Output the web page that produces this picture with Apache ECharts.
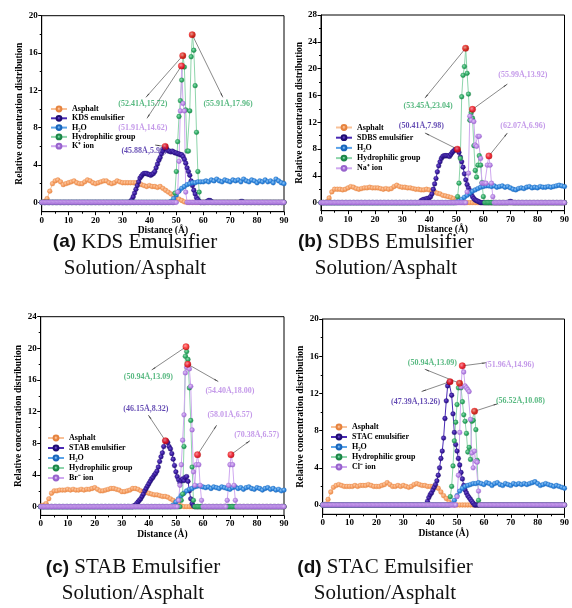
<!DOCTYPE html>
<html>
<head>
<meta charset="utf-8">
<script src="https://cdn.jsdelivr.net/npm/echarts@6/dist/echarts.min.js"></script>
<style>
  html, body { margin: 0; padding: 0; background: #fff; }
  #chart { width: 572px; height: 608px; }
</style>
</head>
<body>
<div id="chart"></div>
<script>
// sampling of the curves
const coarseStep = 1;   // asphalt and water: one value per 1 Å (0..90)
const fineStep = 0.5;   // emulsifier, hydrophilic group, ion: one value per 0.5 Å (0..90)

// ---------- (a) KDS ----------
const aAsphalt = [
  0, 0.1, 0.4, 1.2, 2.0, 2.3, 2.4, 2.2, 1.9, 2.0,
  2.1, 2.2, 2.3, 2.1, 2.0, 2.0, 2.2, 2.4, 2.3, 2.1,
  2.0, 2.1, 2.2, 2.3, 2.3, 2.1, 2.0, 2.1, 2.3, 2.2,
  2.1, 2.1, 2.1, 2.1, 2.1, 2.1, 2.1, 1.9, 1.8, 1.7,
  1.8, 1.7, 1.7, 1.6, 1.7, 1.5, 1.3, 1.1, 0.9, 0.7,
  0.5, 0.35, 0.2, 0.05, 0, 0, 0, 0, 0, 0,
  0, 0, 0, 0, 0, 0, 0, 0, 0, 0,
  0, 0, 0, 0, 0, 0, 0, 0, 0, 0,
  0, 0, 0, 0, 0, 0, 0, 0, 0, 0,
  0];
const aWater = [
  0, 0, 0, 0, 0, 0, 0, 0, 0, 0,
  0, 0, 0, 0, 0, 0, 0, 0, 0, 0,
  0, 0, 0, 0, 0, 0, 0, 0, 0, 0,
  0, 0, 0, 0, 0, 0, 0, 0, 0, 0,
  0, 0, 0, 0, 0, 0, 0, 0, 0.1, 0.4,
  0.8, 1.2, 1.5, 1.7, 1.9, 2.0, 2.1, 2.1, 2.2, 2.2,
  2.2, 2.3, 2.2, 2.4, 2.3, 2.5, 2.3, 2.2, 2.4, 2.3,
  2.2, 2.4, 2.3, 2.4, 2.2, 2.5, 2.3, 2.2, 2.4, 2.3,
  2.1, 2.3, 2.2, 2.4, 2.2, 2.3, 2.1, 2.5, 2.3, 2.1,
  2.0];
const aEmulsifier = [
  0, 0, 0, 0, 0, 0, 0, 0, 0, 0, 0, 0, 0, 0, 0, 0, 0, 0, 0, 0,
  0, 0, 0, 0, 0, 0, 0, 0, 0, 0, 0, 0, 0, 0, 0, 0, 0, 0, 0, 0,
  0, 0, 0, 0, 0, 0, 0, 0, 0, 0, 0, 0, 0, 0, 0, 0, 0, 0, 0, 0,
  0, 0, 0, 0, 0, 0, 0.1, 0.3, 0.6, 1.0, 1.4, 1.8, 2.2, 2.6, 2.8, 3.0, 3.1, 3.1, 3.1, 3.0,
  3.0, 2.9, 3.0, 3.1, 3.3, 3.7, 4.1, 4.5, 4.8, 5.2, 5.5, 5.8, 5.99, 5.7, 5.5, 5.5, 5.4, 5.5, 5.4, 5.3,
  5.3, 5.2, 5.2, 5.1, 5.1, 4.9, 4.6, 4.2, 3.7, 3.3, 2.9, 2.3, 1.8, 1.3, 0.9, 0.5, 0.3, 0.1, 0, 0,
  0, 0, 0, 0.1, 0.2, 0.2, 0.1, 0, 0, 0, 0, 0, 0, 0, 0, 0, 0, 0, 0, 0,
  0, 0, 0, 0, 0, 0, 0, 0, 0.1, 0.1, 0, 0, 0, 0, 0, 0, 0, 0, 0, 0,
  0, 0, 0, 0, 0, 0, 0, 0, 0, 0, 0, 0, 0, 0, 0, 0, 0, 0, 0, 0,
  0];
const aHydrophilic = [
  0, 0, 0, 0, 0, 0, 0, 0, 0, 0, 0, 0, 0, 0, 0, 0, 0, 0, 0, 0,
  0, 0, 0, 0, 0, 0, 0, 0, 0, 0, 0, 0, 0, 0, 0, 0, 0, 0, 0, 0,
  0, 0, 0, 0, 0, 0, 0, 0, 0, 0, 0, 0, 0, 0, 0, 0, 0, 0, 0, 0,
  0, 0, 0, 0, 0, 0, 0, 0, 0, 0, 0, 0, 0, 0, 0, 0, 0, 0, 0, 0,
  0, 0, 0, 0, 0, 0, 0, 0, 0, 0, 0, 0, 0, 0, 0, 0, 0, 0, 0, 1.0,
  3.3, 6.5, 9.2, 10.9, 13.1, 15.72, 14.5, 9.9, 5.5, 5.5, 9.8, 15.6, 17.96, 16.3, 12.5, 7.5, 3.3, 1.1, 0, 0,
  0, 0, 0, 0, 0, 0, 0, 0, 0, 0, 0, 0, 0, 0, 0, 0, 0, 0, 0, 0,
  0, 0, 0, 0, 0, 0, 0, 0, 0, 0, 0, 0, 0, 0, 0, 0, 0, 0, 0, 0,
  0, 0, 0, 0, 0, 0, 0, 0, 0, 0, 0, 0, 0, 0, 0, 0, 0, 0, 0, 0,
  0];
const aIon = [
  0, 0, 0, 0, 0, 0, 0, 0, 0, 0, 0, 0, 0, 0, 0, 0, 0, 0, 0, 0,
  0, 0, 0, 0, 0, 0, 0, 0, 0, 0, 0, 0, 0, 0, 0, 0, 0, 0, 0, 0,
  0, 0, 0, 0, 0, 0, 0, 0, 0, 0, 0, 0, 0, 0, 0, 0, 0, 0, 0, 0,
  0, 0, 0, 0, 0, 0, 0, 0, 0, 0, 0, 0, 0, 0, 0, 0, 0, 0, 0, 0,
  0, 0, 0, 0, 0, 0, 0, 0, 0, 0, 0, 0, 0, 0, 0, 0, 0, 0, 0, 0,
  0, 1.1, 4.4, 9.8, 14.62, 10.6, 9.8, 1.1, 0, 0, 0, 0, 0, 0, 0, 0, 0, 0, 0, 0,
  0, 0, 0, 0, 0, 0, 0, 0, 0, 0, 0, 0, 0, 0, 0, 0, 0, 0, 0, 0,
  0, 0, 0, 0, 0, 0, 0, 0, 0, 0, 0, 0, 0, 0, 0, 0, 0, 0, 0, 0,
  0, 0, 0, 0, 0, 0, 0, 0, 0, 0, 0, 0, 0, 0, 0, 0, 0, 0, 0, 0,
  0];
const aPeakX = [52.41, 51.91, 55.91, 45.88];
const aPeakY = [15.72, 14.62, 17.96, 5.99];
const aPeakLabels = ['(52.41Å,15.72)', '(51.91Å,14.62)', '(55.91Å,17.96)', '(45.88Å,5.99)'];
const aNames = ['Asphalt', 'KDS emulsifier', 'H₂O', 'Hydrophilic group', 'K⁺ ion'];
const aYTicks = [0, 4, 8, 12, 16, 20];
const aYMinor = [2, 6, 10, 14, 18];

// ---------- (b) SDBS ----------
const bAsphalt = [
  0, 0, 0.1, 0.7, 1.6, 2.0, 2.0, 2.0, 1.9, 2.0,
  2.2, 2.4, 2.3, 2.1, 2.0, 2.1, 2.2, 2.2, 2.3, 2.2,
  2.2, 2.2, 2.1, 2.0, 2.1, 2.0, 2.1, 2.4, 2.6, 2.4,
  2.3, 2.3, 2.2, 2.2, 2.1, 2.0, 2.0, 1.9, 1.9, 2.0,
  1.9, 1.8, 1.6, 1.4, 1.3, 1.1, 1.0, 0.9, 0.8, 0.6,
  0.4, 0.2, 0.1, 0, 0, 0, 0, 0, 0, 0,
  0, 0, 0, 0, 0, 0, 0, 0, 0, 0,
  0, 0, 0, 0, 0, 0, 0, 0, 0, 0,
  0, 0, 0, 0, 0, 0, 0, 0, 0, 0,
  0];
const bWater = [
  0, 0, 0, 0, 0, 0, 0, 0, 0, 0,
  0, 0, 0, 0, 0, 0, 0, 0, 0, 0,
  0, 0, 0, 0, 0, 0, 0, 0, 0, 0,
  0, 0, 0, 0, 0, 0, 0, 0, 0, 0,
  0, 0, 0, 0, 0, 0, 0, 0, 0, 0,
  0.1, 0.3, 0.5, 0.8, 1.1, 1.4, 1.7, 1.9, 2.1, 2.3,
  2.4, 2.5, 2.5, 2.4, 2.5, 2.3, 2.4, 2.5, 2.3, 2.4,
  2.2, 2.0, 1.9, 2.1, 2.2, 2.1, 2.3, 2.4, 2.2, 2.3,
  2.2, 2.4, 2.3, 2.3, 2.4, 2.3, 2.4, 2.5, 2.6, 2.5,
  2.4];
const bEmulsifier = [
  0, 0, 0, 0, 0, 0, 0, 0, 0, 0, 0, 0, 0, 0, 0, 0, 0, 0, 0, 0,
  0, 0, 0, 0, 0, 0, 0, 0, 0, 0, 0, 0, 0, 0, 0, 0, 0, 0, 0, 0,
  0, 0, 0, 0, 0, 0, 0, 0, 0, 0, 0, 0, 0, 0, 0, 0, 0, 0, 0, 0,
  0, 0, 0, 0, 0, 0, 0, 0, 0, 0, 0, 0, 0, 0, 0.3, 0.4, 0.5, 0.5, 0.6, 0.6,
  0.7, 0.9, 1.3, 2.0, 2.8, 3.6, 4.6, 5.5, 6.1, 6.6, 6.9, 7.0, 7.0, 7.0, 7.0, 6.9, 7.2, 7.5, 7.7, 7.9,
  7.9, 7.98, 7.5, 6.8, 6.1, 5.3, 4.3, 3.4, 2.7, 2.2, 1.8, 1.3, 0.9, 0.6, 0.4, 0.3, 0.2, 0.1, 0, 0,
  0, 0, 0, 0, 0, 0, 0, 0, 0, 0, 0, 0, 0, 0, 0, 0, 0, 0, 0, 0.1,
  0.2, 0.1, 0, 0, 0, 0, 0, 0, 0, 0, 0, 0, 0, 0, 0, 0, 0, 0, 0, 0,
  0, 0, 0, 0, 0, 0, 0, 0, 0, 0, 0, 0, 0, 0, 0, 0, 0, 0, 0, 0,
  0];
const bHydrophilic = [
  0, 0, 0, 0, 0, 0, 0, 0, 0, 0, 0, 0, 0, 0, 0, 0, 0, 0, 0, 0,
  0, 0, 0, 0, 0, 0, 0, 0, 0, 0, 0, 0, 0, 0, 0, 0, 0, 0, 0, 0,
  0, 0, 0, 0, 0, 0, 0, 0, 0, 0, 0, 0, 0, 0, 0, 0, 0, 0, 0, 0,
  0, 0, 0, 0, 0, 0, 0, 0, 0, 0, 0, 0, 0, 0, 0, 0, 0, 0, 0, 0,
  0, 0, 0, 0, 0, 0, 0, 0, 0, 0, 0, 0, 0, 0, 0, 0, 0, 0, 0, 0,
  0, 0.9, 2.9, 6.6, 15.8, 19.0, 20.3, 23.04, 19.3, 16.2, 12.3, 13.4, 12.6, 8.5, 4.8, 3.8, 5.6, 7.0, 5.6, 3.0,
  0.9, 0, 0, 0, 0, 0, 0, 0, 0, 0, 0, 0, 0, 0, 0, 0, 0, 0, 0, 0,
  0, 0, 0, 0, 0, 0, 0, 0, 0, 0, 0, 0, 0, 0, 0, 0, 0, 0, 0, 0,
  0, 0, 0, 0, 0, 0, 0, 0, 0, 0, 0, 0, 0, 0, 0, 0, 0, 0, 0, 0,
  0];
const bIon = [
  0, 0, 0, 0, 0, 0, 0, 0, 0, 0, 0, 0, 0, 0, 0, 0, 0, 0, 0, 0,
  0, 0, 0, 0, 0, 0, 0, 0, 0, 0, 0, 0, 0, 0, 0, 0, 0, 0, 0, 0,
  0, 0, 0, 0, 0, 0, 0, 0, 0, 0, 0, 0, 0, 0, 0, 0, 0, 0, 0, 0,
  0, 0, 0, 0, 0, 0, 0, 0, 0, 0, 0, 0, 0, 0, 0, 0, 0, 0, 0, 0,
  0, 0, 0, 0, 0, 0, 0, 0, 0, 0, 0, 0, 0, 0, 0, 0, 0, 0, 0, 0,
  0, 0, 0, 0, 0, 0, 0, 0, 1.6, 4.4, 12.9, 12.3, 13.92, 12.1, 8.6, 8.4, 9.9, 9.9, 6.6, 2.9,
  2.9, 2.9, 2.9, 5.6, 6.96, 5.6, 2.9, 0.9, 0, 0, 0, 0, 0, 0, 0, 0, 0, 0, 0, 0,
  0, 0, 0, 0, 0, 0, 0, 0, 0, 0, 0, 0, 0, 0, 0, 0, 0, 0, 0, 0,
  0, 0, 0, 0, 0, 0, 0, 0, 0, 0, 0, 0, 0, 0, 0, 0, 0, 0, 0, 0,
  0];
const bPeakX = [53.45, 50.41, 55.99, 62.07];
const bPeakY = [23.04, 7.98, 13.92, 6.96];
const bPeakLabels = ['(53.45Å,23.04)', '(50.41Å,7.98)', '(55.99Å,13.92)', '(62.07Å,6.96)'];
const bNames = ['Asphalt', 'SDBS emulsifier', 'H₂O', 'Hydrophilic group', 'Na⁺ ion'];
const bYTicks = [0, 4, 8, 12, 16, 20, 24, 28];
const bYMinor = [2, 6, 10, 14, 18, 22, 26];

// ---------- (c) STAB ----------
const cAsphalt = [
  0.1, 0.2, 0.4, 1.0, 1.7, 2.0, 2.0, 2.1, 2.1, 2.1,
  2.2, 2.1, 2.2, 2.1, 2.1, 2.2, 2.1, 2.2, 2.2, 2.3,
  2.4, 2.2, 2.0, 2.0, 2.1, 2.2, 2.3, 2.3, 2.2, 2.1,
  1.9, 1.9, 2.0, 2.1, 2.3, 2.3, 2.2, 2.0, 1.9, 1.8,
  1.7, 1.6, 1.5, 1.5, 1.4, 1.3, 1.3, 1.2, 1.0, 0.8,
  0.5, 0.3, 0.1, 0, 0, 0, 0, 0, 0, 0,
  0, 0, 0, 0, 0, 0, 0, 0, 0, 0,
  0, 0, 0, 0, 0, 0, 0, 0, 0, 0,
  0, 0, 0, 0, 0, 0, 0, 0, 0, 0,
  0];
const cWater = [
  0, 0, 0, 0, 0, 0, 0, 0, 0, 0,
  0, 0, 0, 0, 0, 0, 0, 0, 0, 0,
  0, 0, 0, 0, 0, 0, 0, 0, 0, 0,
  0, 0, 0, 0, 0, 0, 0, 0, 0, 0,
  0, 0, 0, 0, 0, 0, 0, 0, 0, 0.2,
  0.6, 1.0, 1.4, 1.7, 2.0, 2.2, 2.3, 2.5, 2.6, 2.6,
  2.5, 2.4, 2.5, 2.3, 2.5, 2.4, 2.3, 2.5, 2.4, 2.3,
  2.2, 2.4, 2.5, 2.3, 2.4, 2.2, 2.4, 2.5, 2.3, 2.2,
  2.4, 2.3, 2.1, 2.3, 2.4, 2.2, 2.3, 2.1, 2.2, 2.0,
  2.1];
const cEmulsifier = [
  0, 0, 0, 0, 0, 0, 0, 0, 0, 0, 0, 0, 0, 0, 0, 0, 0, 0, 0, 0,
  0, 0, 0, 0, 0, 0, 0, 0, 0, 0, 0, 0, 0, 0, 0, 0, 0, 0, 0, 0,
  0, 0, 0, 0, 0, 0, 0, 0, 0, 0, 0, 0, 0, 0, 0, 0, 0, 0, 0, 0,
  0, 0, 0, 0, 0, 0, 0, 0, 0, 0.1, 0.2, 0.4, 0.6, 0.8, 1.0, 1.3, 1.6, 2.0, 2.3, 2.6,
  2.9, 3.2, 3.5, 3.7, 4.0, 4.2, 4.5, 5.0, 5.7, 6.3, 6.8, 7.6, 8.32, 8.3, 8.1, 7.6, 7.3, 6.7, 6.0, 5.2,
  4.4, 3.8, 3.4, 3.0, 3.3, 3.5, 3.3, 3.7, 3.8, 3.2, 2.0, 1.0, 0.4, 0.1, 0, 0, 0, 0, 0, 0,
  0, 0, 0, 0, 0, 0, 0, 0, 0, 0, 0, 0, 0, 0, 0, 0, 0, 0, 0, 0,
  0, 0, 0, 0, 0, 0, 0, 0, 0, 0, 0, 0, 0, 0, 0, 0, 0, 0, 0, 0,
  0, 0, 0, 0, 0, 0, 0, 0, 0, 0, 0, 0, 0, 0, 0, 0, 0, 0, 0, 0,
  0];
const cHydrophilic = [
  0, 0, 0, 0, 0, 0, 0, 0, 0, 0, 0, 0, 0, 0, 0, 0, 0, 0, 0, 0,
  0, 0, 0, 0, 0, 0, 0, 0, 0, 0, 0, 0, 0, 0, 0, 0, 0, 0, 0, 0,
  0, 0, 0, 0, 0, 0, 0, 0, 0, 0, 0, 0, 0, 0, 0, 0, 0, 0, 0, 0,
  0, 0, 0, 0, 0, 0, 0, 0, 0, 0, 0, 0, 0, 0, 0, 0, 0, 0, 0, 0,
  0, 0, 0, 0, 0, 0, 0, 0, 0, 0, 0, 0, 0, 0, 0, 0, 0, 0, 0, 0,
  0, 0, 0, 0, 0.8, 1.6, 7.6, 19.0, 19.6, 18.6, 15.0, 10.9, 5.0, 0.8, 0, 0, 0, 0, 0, 0,
  0, 0, 0, 0, 0, 0, 0, 0, 0, 0, 0, 0, 0, 0, 0, 0, 0, 0, 0, 0,
  0, 0, 0, 0, 0, 0, 0, 0, 0, 0, 0, 0, 0, 0, 0, 0, 0, 0, 0, 0,
  0, 0, 0, 0, 0, 0, 0, 0, 0, 0, 0, 0, 0, 0, 0, 0, 0, 0, 0, 0,
  0];
const cIon = [
  0, 0, 0, 0, 0, 0, 0, 0, 0, 0, 0, 0, 0, 0, 0, 0, 0, 0, 0, 0,
  0, 0, 0, 0, 0, 0, 0, 0, 0, 0, 0, 0, 0, 0, 0, 0, 0, 0, 0, 0,
  0, 0, 0, 0, 0, 0, 0, 0, 0, 0, 0, 0, 0, 0, 0, 0, 0, 0, 0, 0,
  0, 0, 0, 0, 0, 0, 0, 0, 0, 0, 0, 0, 0, 0, 0, 0, 0, 0, 0, 0,
  0, 0, 0, 0, 0, 0, 0, 0, 0, 0, 0, 0, 0, 0, 0, 0, 0, 0, 0, 0,
  0, 0, 0.8, 2.7, 5.3, 8.4, 11.6, 16.9, 17.6, 18.0, 17.4, 15.2, 9.7, 4.4, 2.7, 5.3, 6.57, 5.3, 2.7, 0.8,
  0, 0, 0, 0, 0, 0, 0, 0, 0, 0, 0, 0, 0, 0, 0, 0, 0, 0, 0.8, 2.7,
  5.3, 6.57, 5.3, 2.7, 0.8, 0, 0, 0, 0, 0, 0, 0, 0, 0, 0, 0, 0, 0, 0, 0,
  0, 0, 0, 0, 0, 0, 0, 0, 0, 0, 0, 0, 0, 0, 0, 0, 0, 0, 0, 0,
  0];
const cPeakX = [53.75, 46.15, 54.40, 58.01, 70.38];
const cPeakY = [20.2, 8.32, 18.00, 6.57, 6.57];
const cPeakLabels = ['(50.94Å,13.09)', '(46.15Å,8.32)', '(54.40Å,18.00)', '(58.01Å,6.57)', '(70.38Å,6.57)'];
const cNames = ['Asphalt', 'STAB emulsifier', 'H₂O', 'Hydrophilic group', 'Br⁻ ion'];
const cYTicks = [0, 4, 8, 12, 16, 20, 24];
const cYMinor = [2, 6, 10, 14, 18, 22];

// ---------- (d) STAC ----------
const dAsphalt = [
  0, 0.1, 0.6, 1.4, 1.9, 2.1, 2.2, 2.1, 2.0, 2.0,
  2.0, 2.0, 2.1, 2.0, 2.1, 2.1, 2.1, 2.2, 2.1, 2.0,
  2.0, 2.0, 2.1, 2.2, 2.4, 2.2, 2.0, 2.0, 2.1, 2.0,
  2.1, 2.0, 1.9, 2.0, 2.2, 2.3, 2.2, 2.1, 2.1, 2.0,
  2.0, 2.0, 1.9, 1.8, 1.4, 1.0, 0.7, 0.3, 0.1, 0,
  0, 0, 0, 0, 0, 0, 0, 0, 0, 0,
  0, 0, 0, 0, 0, 0, 0, 0, 0, 0,
  0, 0, 0, 0, 0, 0, 0, 0, 0, 0,
  0, 0, 0, 0, 0, 0, 0, 0, 0, 0,
  0];
const dWater = [
  0, 0, 0, 0, 0, 0, 0, 0, 0, 0,
  0, 0, 0, 0, 0, 0, 0, 0, 0, 0,
  0, 0, 0, 0, 0, 0, 0, 0, 0, 0,
  0, 0, 0, 0, 0, 0, 0, 0, 0, 0,
  0, 0, 0, 0, 0, 0, 0, 0, 0.1, 0.5,
  1.0, 1.5, 1.8, 2.0, 2.1, 2.2, 2.3, 2.3, 2.4, 2.3,
  2.2, 2.4, 2.3, 2.1, 2.3, 2.4, 2.2, 2.1, 2.3, 2.2,
  2.1, 2.3, 2.2, 2.3, 2.2, 2.3, 2.2, 2.3, 2.4, 2.5,
  2.3, 2.1, 2.2, 2.3, 2.2, 2.1, 2.0, 2.1, 2.0, 1.9,
  1.8];
const dEmulsifier = [
  0, 0, 0, 0, 0, 0, 0, 0, 0, 0, 0, 0, 0, 0, 0, 0, 0, 0, 0, 0,
  0, 0, 0, 0, 0, 0, 0, 0, 0, 0, 0, 0, 0, 0, 0, 0, 0, 0, 0, 0,
  0, 0, 0, 0, 0, 0, 0, 0, 0, 0, 0, 0, 0, 0, 0, 0, 0, 0, 0, 0,
  0, 0, 0, 0, 0, 0, 0, 0, 0, 0, 0, 0, 0, 0, 0, 0, 0, 0, 0.4, 0.8,
  1.1, 1.3, 1.6, 1.9, 2.2, 2.6, 3.2, 4.0, 5.0, 5.8, 7.2, 9.3, 11.2, 12.8, 13.2, 13.26, 11.8, 9.8, 7.8, 6.5,
  5.8, 5.0, 4.3, 3.5, 2.8, 2.1, 1.6, 1.3, 1.0, 0.8, 0.6, 0.4, 0.2, 0, 0, 0, 0, 0, 0, 0,
  0, 0, 0, 0, 0, 0, 0, 0, 0, 0, 0, 0, 0, 0, 0, 0, 0, 0, 0, 0,
  0, 0, 0, 0, 0, 0, 0, 0, 0, 0, 0, 0, 0, 0, 0, 0, 0, 0, 0, 0,
  0, 0, 0, 0, 0, 0, 0, 0, 0, 0, 0, 0, 0, 0, 0, 0, 0, 0, 0, 0,
  0];
const dHydrophilic = [
  0, 0, 0, 0, 0, 0, 0, 0, 0, 0, 0, 0, 0, 0, 0, 0, 0, 0, 0, 0,
  0, 0, 0, 0, 0, 0, 0, 0, 0, 0, 0, 0, 0, 0, 0, 0, 0, 0, 0, 0,
  0, 0, 0, 0, 0, 0, 0, 0, 0, 0, 0, 0, 0, 0, 0, 0, 0, 0, 0, 0,
  0, 0, 0, 0, 0, 0, 0, 0, 0, 0, 0, 0, 0, 0, 0, 0, 0, 0, 0, 0,
  0, 0, 0, 0, 0, 0, 0, 0, 0, 0, 0, 0, 0, 0, 0, 0.9, 2.0, 4.2, 6.9, 8.9,
  10.8, 12.6, 13.09, 12.6, 11.1, 9.7, 9.0, 7.7, 5.7, 6.2, 4.9, 9.0, 9.1, 10.08, 8.1, 4.8, 0.5, 0, 0, 0,
  0, 0, 0, 0, 0, 0, 0, 0, 0, 0, 0, 0, 0, 0, 0, 0, 0, 0, 0, 0,
  0, 0, 0, 0, 0, 0, 0, 0, 0, 0, 0, 0, 0, 0, 0, 0, 0, 0, 0, 0,
  0, 0, 0, 0, 0, 0, 0, 0, 0, 0, 0, 0, 0, 0, 0, 0, 0, 0, 0, 0,
  0];
const dIon = [
  0, 0, 0, 0, 0, 0, 0, 0, 0, 0, 0, 0, 0, 0, 0, 0, 0, 0, 0, 0,
  0, 0, 0, 0, 0, 0, 0, 0, 0, 0, 0, 0, 0, 0, 0, 0, 0, 0, 0, 0,
  0, 0, 0, 0, 0, 0, 0, 0, 0, 0, 0, 0, 0, 0, 0, 0, 0, 0, 0, 0,
  0, 0, 0, 0, 0, 0, 0, 0, 0, 0, 0, 0, 0, 0, 0, 0, 0, 0, 0, 0,
  0, 0, 0, 0, 0, 0, 0, 0, 0, 0, 0, 0, 0, 0, 0, 0, 0, 0, 0, 0,
  0.9, 3.2, 7.8, 12.7, 14.96, 14.3, 12.8, 12.6, 12.4, 12.2, 9.2, 5.6, 4.0, 5.8, 4.7, 4.6, 1.5, 0, 0, 0,
  0, 0, 0, 0, 0, 0, 0, 0, 0, 0, 0, 0, 0, 0, 0, 0, 0, 0, 0, 0,
  0, 0, 0, 0, 0, 0, 0, 0, 0, 0, 0, 0, 0, 0, 0, 0, 0, 0, 0, 0,
  0, 0, 0, 0, 0, 0, 0, 0, 0, 0, 0, 0, 0, 0, 0, 0, 0, 0, 0, 0,
  0];
const dPeakX = [50.94, 47.39, 51.96, 56.52];
const dPeakY = [13.09, 13.26, 14.96, 10.08];
const dPeakLabels = ['(50.94Å,13.09)', '(47.39Å,13.26)', '(51.96Å,14.96)', '(56.52Å,10.08)'];
const dNames = ['Asphalt', 'STAC emulsifier', 'H₂O', 'Hydrophilic group', 'Cl⁻ ion'];
const dYTicks = [0, 4, 8, 12, 16, 20];
const dYMinor = [2, 6, 10, 14, 18];

const xTicks = [0, 10, 20, 30, 40, 50, 60, 70, 80, 90];

// ---------- styling / layout ----------
const SERIF = '"Liberation Serif", "Times New Roman", serif';
const SANS = '"Liberation Sans", Arial, sans-serif';

const palette = {
  asph:  { hi: '#FCC9A2', mark: '#F7A066', line: '#F9C197', dark: '#E5833F', text: '#F08A45' },
  emul:  { hi: '#6E52CC', mark: '#3A1BA2', line: '#4A2AB5', dark: '#1E0C70', text: '#3A1A9F' },
  water: { hi: '#8DC1F3', mark: '#2F88E0', line: '#5AA3EA', dark: '#1A66BA', text: '#2F88E0' },
  hydro: { hi: '#8EDDB0', mark: '#30AD67', line: '#8ED5AB', dark: '#1D8548', text: '#2EA862' },
  ion:   { hi: '#DEC3F6', mark: '#BA88E6', line: '#CFA8F0', dark: '#9763CC', text: '#B57FE3' },
  peak:  { hi: '#FF8A8A', mark: '#FF1414', dark: '#B80000' }
};

function ball(c) {
  return new echarts.graphic.RadialGradient(0.4, 0.38, 0.65, [
    { offset: 0, color: c.hi },
    { offset: 0.55, color: c.mark },
    { offset: 1, color: c.dark }
  ]);
}

// annotation placement (data coords of arrow tip and label centre), one per peak
const panels = [
  {
    tag: '(a)', title: 'KDS Emulsifier',
    grid: { left: 41.7, top: 15.7, width: 242.3, height: 196 },
    yMin: -1, yMax: 20, yTicks: aYTicks, yMinor: aYMinor,
    asph: aAsphalt, water: aWater, emul: aEmulsifier, hydro: aHydrophilic, ion: aIon,
    names: aNames, peakX: aPeakX, peakY: aPeakY, peakLabels: aPeakLabels,
    notes: [
      { kind: 'hydro', tip: [38.7, 11.25], at: [37.6, 10.5] },
      { kind: 'ion', tip: [39.1, 9.0], at: [37.6, 7.93] },
      { kind: 'hydro', tip: [67.3, 11.25], at: [69.2, 10.5] },
      { kind: 'emul', tip: [42.1, 6.15], at: [38.0, 5.46] }
    ],
    legend: { left: 50, top: 104.5, gap: 0.3 },
    caption: { x: 135, y: 255 }
  },
  {
    tag: '(b)', title: 'SDBS Emulsifier',
    grid: { left: 321, top: 15, width: 244, height: 195.7 },
    yMin: -1.2, yMax: 28, yTicks: bYTicks, yMinor: bYMinor,
    asph: bAsphalt, water: bWater, emul: bEmulsifier, hydro: bHydrophilic, ion: bIon,
    names: bNames, peakX: bPeakX, peakY: bPeakY, peakLabels: bPeakLabels,
    notes: [
      { kind: 'hydro', tip: [38.4, 15.6], at: [39.6, 14.4] },
      { kind: 'emul', tip: [38.4, 10.4], at: [37.1, 11.4] },
      { kind: 'ion', tip: [68.9, 17.7], at: [74.6, 19.1] },
      { kind: 'ion', tip: [68.9, 10.4], at: [74.6, 11.4] }
    ],
    legend: { left: 335, top: 123, gap: 1.2 },
    caption: { x: 386, y: 255 }
  },
  {
    tag: '(c)', title: 'STAB Emulsifier',
    grid: { left: 40.7, top: 316.7, width: 243.3, height: 198.7 },
    yMin: -1.1, yMax: 24, yTicks: cYTicks, yMinor: cYMinor,
    asph: cAsphalt, water: cWater, emul: cEmulsifier, hydro: cHydrophilic, ion: cIon,
    names: cNames, peakX: cPeakX, peakY: cPeakY, peakLabels: cPeakLabels,
    notes: [
      { kind: 'hydro', tip: [41.05, 17.27], at: [39.8, 16.34] },
      { kind: 'emul', tip: [39.8, 11.58], at: [38.9, 12.4] },
      { kind: 'ion', tip: [65.7, 15.8], at: [70.0, 14.65] },
      { kind: 'ion', tip: [65.1, 10.3], at: [70.0, 11.6] },
      { kind: 'ion', tip: [77.4, 8.34], at: [79.9, 9.06] }
    ],
    legend: { left: 47, top: 433.5, gap: 1 },
    caption: { x: 133, y: 580.5 }
  },
  {
    tag: '(d)', title: 'STAC Emulsifier',
    grid: { left: 322.7, top: 319, width: 242.3, height: 195.3 },
    yMin: -1, yMax: 20, yTicks: dYTicks, yMinor: dYMinor,
    asph: dAsphalt, water: dWater, emul: dEmulsifier, hydro: dHydrophilic, ion: dIon,
    names: dNames, peakX: dPeakX, peakY: dPeakY, peakLabels: dPeakLabels,
    notes: [
      { kind: 'hydro', tip: [38.0, 14.6], at: [40.8, 15.3] },
      { kind: 'emul', tip: [36.8, 12.2], at: [34.6, 11.1] },
      { kind: 'ion', tip: [60.9, 15.3], at: [69.6, 15.1] },
      { kind: 'hydro', tip: [65.2, 10.9], at: [73.6, 11.2] }
    ],
    legend: { left: 330, top: 422.5, gap: 1 },
    caption: { x: 385, y: 580.5 }
  }
];

const axisFont = { fontFamily: SERIF, fontWeight: 'bold', fontSize: 9, color: '#000' };

const grids = [], xAxes = [], yAxes = [], series = [], legends = [], graphics = [];

panels.forEach(function (p, gi) {
  grids.push(Object.assign({ show: true, borderColor: '#000', borderWidth: 1, backgroundColor: 'transparent' }, p.grid));

  xAxes.push({
    type: 'value', gridIndex: gi, min: xTicks[0], max: xTicks[xTicks.length - 1], interval: 10,
    axisLine: { onZero: false, lineStyle: { color: '#000', width: 1 } },
    axisTick: { length: 3.5, lineStyle: { color: '#000' } },
    minorTick: { show: true, splitNumber: 2, length: 2, lineStyle: { color: '#000' } },
    axisLabel: Object.assign({ margin: 4 }, axisFont),
    splitLine: { show: false },
    name: 'Distance (Å)', nameLocation: 'middle', nameGap: 11,
    nameTextStyle: { fontFamily: SERIF, fontWeight: 'bold', fontSize: 9.5, color: '#000' }
  });

  yAxes.push({
    type: 'value', gridIndex: gi, position: 'left', min: p.yMin, max: p.yMax,
    axisLine: { show: true, onZero: false, lineStyle: { color: '#000', width: 1 } },
    axisTick: { show: true, length: 3.5, customValues: p.yTicks, lineStyle: { color: '#000' } },
    axisLabel: Object.assign({ margin: 4, customValues: p.yTicks }, axisFont),
    splitLine: { show: false },
    name: 'Relative concentration distribution', nameLocation: 'middle', nameGap: 13,
    nameTextStyle: { fontFamily: SERIF, fontWeight: 'bold', fontSize: 9.5, color: '#000' }
  });
  yAxes.push({
    type: 'value', gridIndex: gi, position: 'left', min: p.yMin, max: p.yMax,
    axisLine: { show: false, onZero: false },
    axisTick: { show: true, length: 2, customValues: p.yMinor, lineStyle: { color: '#000' } },
    axisLabel: { show: false },
    splitLine: { show: false }
  });

  function curve(name, values, step, c) {
    return {
      type: 'line', name: name, xAxisIndex: gi, yAxisIndex: gi * 2,
      data: values.map(function (v, i) { return [i * step, v]; }),
      symbol: 'circle', symbolSize: 4.8, showSymbol: true,
      lineStyle: { color: c.line, width: 1 },
      itemStyle: { color: ball(c), borderColor: c.dark, borderWidth: 0.3 },
      z: 2, silent: true, animation: false
    };
  }
  series.push(curve(p.names[0], p.asph, coarseStep, palette.asph));
  series.push(curve(p.names[1], p.emul, fineStep, palette.emul));
  series.push(curve(p.names[2], p.water, coarseStep, palette.water));
  series.push(curve(p.names[3], p.hydro, fineStep, palette.hydro));
  series.push(curve(p.names[4], p.ion, fineStep, palette.ion));

  // red peak markers with arrows
  series.push({
    type: 'scatter', xAxisIndex: gi, yAxisIndex: gi * 2,
    data: p.peakX.map(function (x, i) { return [x, p.peakY[i]]; }),
    symbol: 'circle', symbolSize: 6.5,
    itemStyle: { color: ball(palette.peak), borderColor: palette.peak.dark, borderWidth: 0.3 },
    z: 5, silent: true, animation: false,
    markLine: {
      silent: true, animation: false, symbol: ['none', 'arrow'], symbolSize: [1, 5],
      label: { show: false },
      lineStyle: { color: '#3a3a3a', width: 0.6, type: 'solid' },
      emphasis: { disabled: true },
      data: p.notes.map(function (n, i) {
        return [{ coord: [p.peakX[i], p.peakY[i]] }, { coord: n.tip }];
      })
    }
  });

  // annotation texts
  series.push({
    type: 'scatter', xAxisIndex: gi, yAxisIndex: gi * 2,
    symbol: 'circle', symbolSize: 1, itemStyle: { color: 'rgba(0,0,0,0)' },
    z: 6, silent: true, animation: false,
    label: { show: true, position: 'inside', formatter: '{b}', fontFamily: SERIF, fontWeight: 'bold', fontSize: 8 },
    data: p.notes.map(function (n, i) {
      return { name: p.peakLabels[i], value: n.at, label: { color: palette[n.kind].text } };
    })
  });

  legends.push({
    data: p.names, orient: 'vertical', left: p.legend.left, top: p.legend.top,
    itemWidth: 16, itemHeight: 6, itemGap: p.legend.gap, padding: 0, selectedMode: false,
    textStyle: { fontFamily: SERIF, fontWeight: 'bold', fontSize: 8, lineHeight: 9, color: '#000' }
  });

  graphics.push({
    type: 'text', x: p.caption.x, y: p.caption.y, silent: true,
    style: {
      text: '{t|' + p.tag + '} ' + p.title + '\nSolution/Asphalt',
      align: 'center', verticalAlign: 'middle',
      fontFamily: SERIF, fontSize: 21, lineHeight: 26, fill: '#111',
      rich: { t: { fontFamily: SANS, fontWeight: 'bold', fontSize: 19, lineHeight: 26, fill: '#111' } }
    }
  });
});

const chart = echarts.init(document.getElementById('chart'), null, { renderer: 'canvas' });
chart.setOption({
  animation: false,
  backgroundColor: '#fff',
  textStyle: { fontFamily: SERIF },
  grid: grids,
  xAxis: xAxes,
  yAxis: yAxes,
  legend: legends,
  series: series,
  graphic: graphics
});
</script>
</body>
</html>
